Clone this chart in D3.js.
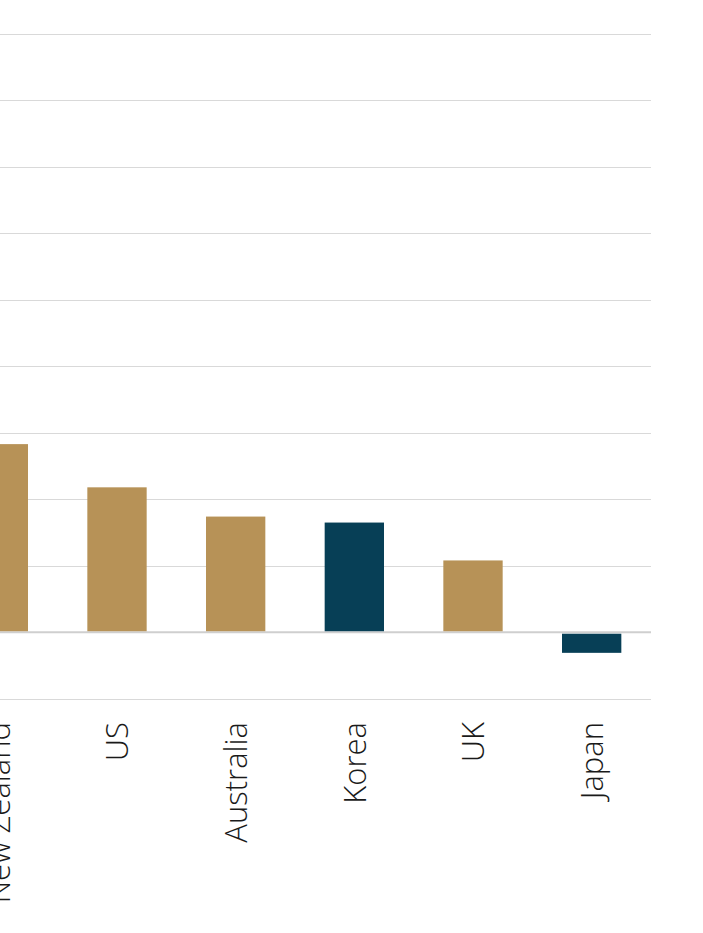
<!DOCTYPE html>
<html>
<head>
<meta charset="utf-8">
<script src="https://cdn.jsdelivr.net/npm/d3@7"></script>
<style>
  html, body { margin: 0; padding: 0; background: #fff; }
  svg { display: block; }
</style>
</head>
<body>
<svg id="chart" width="703" height="933"></svg>
<script>
const categories = ["New Zealand", "US", "Australia", "Korea", "UK", "Japan"];
const values = [2.83, 2.18, 1.74, 1.65, 1.08, -0.31];
const highlight = ["Korea", "Japan"];
const yTicks = [-1, 0, 1, 2, 3, 4, 5, 6, 7, 8, 9];

const svg = d3.select("#chart");
const x = d3.scaleBand().domain(categories).range([-61, 651]).paddingInner(0.5).paddingOuter(0.25);
const y = d3.scaleLinear().domain([-1, 9]).range([698.7, 34]);

const gridLeft = 0, gridRight = 651;

// gridlines
svg.append("g").selectAll("line").data(yTicks.filter(d => d !== 0)).join("line")
  .attr("x1", gridLeft).attr("x2", gridRight)
  .attr("y1", d => Math.round(y(d)) + 0.5).attr("y2", d => Math.round(y(d)) + 0.5)
  .attr("stroke", "#d9d9d9").attr("stroke-width", 1);

// zero line
svg.append("line")
  .attr("x1", gridLeft).attr("x2", gridRight)
  .attr("y1", y(0)).attr("y2", y(0))
  .attr("stroke", "#cfcfcf").attr("stroke-width", 2.2);

// bars
svg.append("g").selectAll("rect").data(categories).join("rect")
  .attr("x", d => x(d))
  .attr("width", x.bandwidth())
  .attr("y", (d, i) => values[i] >= 0 ? y(values[i]) : y(0) + 1.5)
  .attr("height", (d, i) => values[i] >= 0 ? y(0) - 1 - y(values[i]) : y(values[i]) - y(0) - 1.5)
  .attr("fill", d => highlight.includes(d) ? "#073f56" : "#b79257");

// x labels (rotated)
const xAxis = d3.axisBottom(x).tickSize(0).tickPadding(0);
const ax = svg.append("g").attr("transform", `translate(0, 722)`).call(xAxis);
ax.select(".domain").remove();
ax.selectAll("text")
  .attr("transform", "rotate(-90)")
  .attr("text-anchor", "end")
  .attr("x", 0).attr("y", 0).attr("dy", "0.36em")
  .style("font-family", "'Open Sans', sans-serif")
  .style("font-weight", 300)
  .style("font-size", "31px")
  .attr("fill", "#1a1a1a");
</script>
</body>
</html>
